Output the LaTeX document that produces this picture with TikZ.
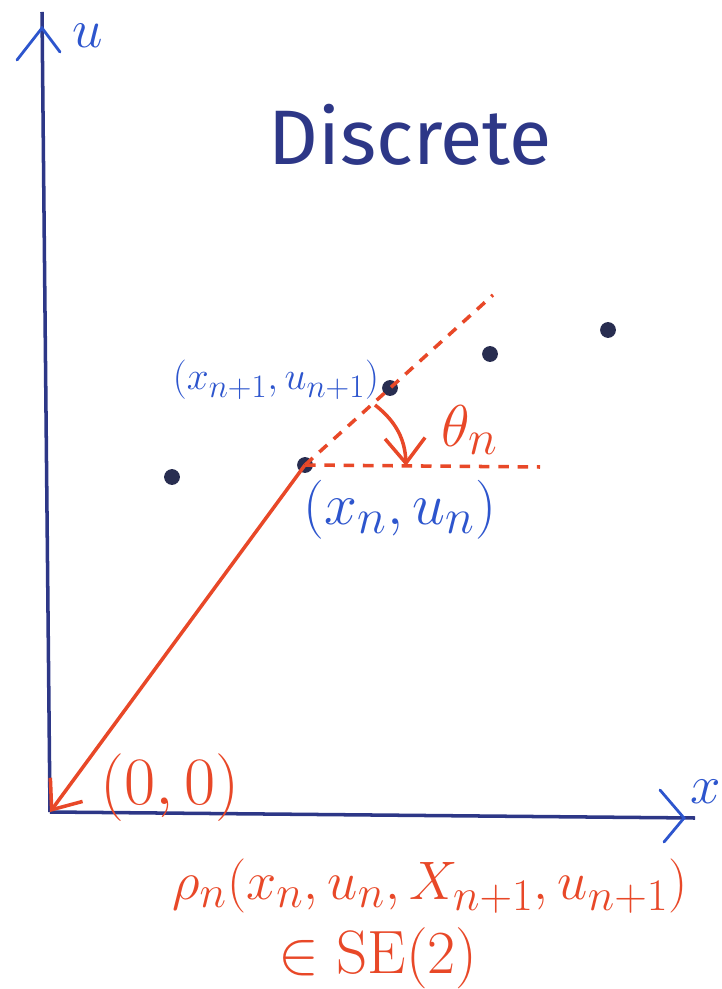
\documentclass[tikz,border=0pt]{standalone}
\usepackage{xcolor}
\usepackage{amsmath}
\usepackage{graphicx}
\usepackage{fontspec}
\setsansfont{Fira Sans}
\usepackage{tikz}
\usetikzlibrary{arrows.meta,positioning,calc}
\definecolor{axiscol}{RGB}{45,55,135}
\definecolor{labelcol}{RGB}{45,85,205}
\definecolor{redcol}{RGB}{232,72,40}
\definecolor{dotcol}{RGB}{40,45,80}
\newcommand{\mlabel}[2]{\scalebox{#1}{$#2$}}
\tikzset{
  axis/.style    ={draw=axiscol, line width=2pt},
  chev/.style    ={draw=labelcol, line width=1.6pt, line cap=round},
  dotpt/.style   ={circle, fill=dotcol, inner sep=0pt, minimum size=9pt},
  reddash/.style ={draw=redcol, line width=2pt, dash pattern=on 6pt off 5pt},
  redarrow/.style={draw=redcol, line width=2pt, -{Straight Barb[length=5mm,width=8mm]}},
  bluelbl/.style ={text=labelcol, font=\fontsize{24.88}{27}\selectfont},
  redlbl/.style  ={text=redcol, font=\fontsize{24.88}{27}\selectfont, inner sep=1pt},
}
\begin{document}
\begin{tikzpicture}[x=0.02cm, y=-0.02cm]
    \useasboundingbox (0,0) rectangle (721,989);

    % axes
    \coordinate (o) at (50,812);
    \coordinate (utop) at (42,12);
    \coordinate (xend) at (695,818);
    \draw[axis] (o) -- (utop);
    \draw[axis] (o) -- (xend);
    \draw[chev] (17,60) -- (42,28) -- (60,52);
    \draw[chev] (660,790) -- (684,818) -- (664,842);
    \node[bluelbl] (ulbl) at (88,36) {\mlabel{1.25}{u}};
    \node[bluelbl] (xlbl) at (706,792) {\mlabel{1.25}{x}};

    \node[text=axiscol, font=\sffamily\fontsize{44}{46}\selectfont] (title) at (410,135) {Discrete};

    % samples
    \node[dotpt] (p0) at (172,477) {};
    \node[dotpt] (pn) at (305,465) {};
    \node[dotpt] (pn1) at (390,388) {};
    \node[dotpt] (p3) at (490,354) {};
    \node[dotpt] (p4) at (608,330) {};

    \coordinate (dirend) at (493,295);
    \coordinate (horend) at (540,467);
    \draw[reddash] (pn.center) -- (dirend);
    \draw[reddash] (pn.center) -- (horend);
    \draw[redarrow] (pn.center) -- (o);
    \draw[redarrow] (375,405) to[bend left=25] (406,466);

    \node[bluelbl] (lbln1) at (276,380) {\mlabel{0.9}{(x_{n+1},u_{n+1})}};
    \node[bluelbl] (lbln) at (400,510) {\mlabel{1.35}{(x_n,u_n)}};
    \node[redlbl] (theta) at (470,430) {\mlabel{1.35}{\theta_n}};
    \node[redlbl] (zero) at (170,788) {\mlabel{1.55}{(0,0)}};

    \node[redlbl] (rho) at (430,886)
        {\mlabel{1.24}{\rho_n(x_n,u_n,X_{n+1},u_{n+1})}};
    \node[redlbl] (se) at (378,958)
        {\mlabel{1.4}{\in\mathrm{SE}(2)}};
\end{tikzpicture}
\end{document}
